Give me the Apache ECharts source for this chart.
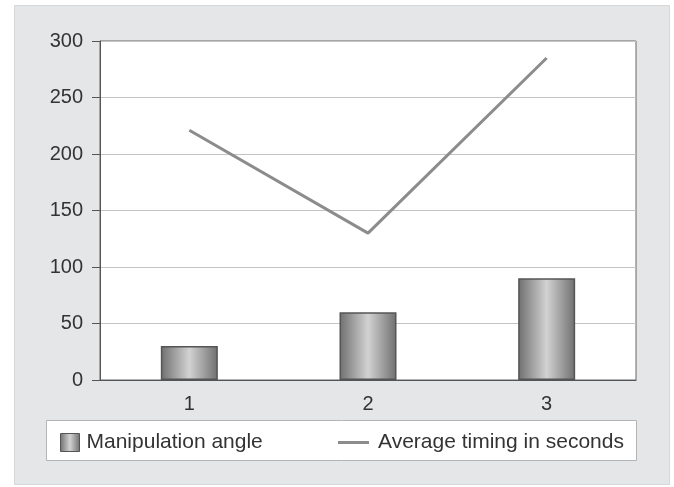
<!DOCTYPE html>
<html>
<head>
<meta charset="utf-8">
<script src="https://cdn.jsdelivr.net/npm/echarts@6/dist/echarts.min.js"></script>
<style>
html,body{margin:0;padding:0;background:#fff;}
#c{width:674px;height:487px;}
</style>
</head>
<body>
<div id="c"></div>
<script>
const categories = ['1', '2', '3'];
const manipulationAngle = [30, 60, 90];
const averageTiming = [221, 130, 285];
const yTicks = {min: 0, max: 300, interval: 50};

const FONT = '"Liberation Sans", Arial, sans-serif';
const chart = echarts.init(document.getElementById('c'), null, {renderer: 'canvas'});

const barGradient = new echarts.graphic.LinearGradient(0, 0, 1, 0, [
  {offset: 0, color: '#6f6f6f'},
  {offset: 0.5, color: '#d2d2d2'},
  {offset: 1, color: '#6f6f6f'}
]);

chart.setOption({
  backgroundColor: '#ffffff',
  animation: false,
  graphic: [
    {type: 'rect', z: -100, silent: true,
     shape: {x: 14.5, y: 5.5, width: 655, height: 479},
     style: {fill: '#e5e6e8', stroke: '#d6d7d9', lineWidth: 1}},
    {type: 'rect', z: 0, silent: true,
     shape: {x: 46.5, y: 420.5, width: 590, height: 40},
     style: {fill: '#ffffff', stroke: '#b4b4b4', lineWidth: 1}}
  ],
  grid: {
    left: 100, right: 38, top: 41, bottom: 107,
    show: true, backgroundColor: '#ffffff', borderColor: '#666666', borderWidth: 1
  },
  legend: [
    {
      data: [{name: 'Manipulation angle', icon: 'rect'}],
      left: 60, top: 432, padding: 0,
      itemWidth: 19, itemHeight: 18,
      textStyle: {fontFamily: FONT, fontSize: 21, color: '#333', padding: [0, 0, 0, 2]},
      itemStyle: {borderColor: '#555', borderWidth: 1}
    },
    {
      data: [{name: 'Average timing in seconds', icon: 'rect'}],
      left: 338, top: 432, padding: 0,
      itemWidth: 31, itemHeight: 3,
      textStyle: {fontFamily: FONT, fontSize: 21, color: '#333', padding: [0, 0, 0, 4]},
      itemStyle: {color: '#8c8c8c', borderWidth: 0}
    }
  ],
  xAxis: {
    type: 'category',
    data: categories,
    boundaryGap: true,
    axisLine: {lineStyle: {color: '#555', width: 1}},
    axisTick: {show: false},
    axisLabel: {fontFamily: FONT, fontSize: 20, color: '#333', margin: 14}
  },
  yAxis: {
    type: 'value',
    min: yTicks.min, max: yTicks.max, interval: yTicks.interval,
    axisLine: {show: true, lineStyle: {color: '#555', width: 1}},
    axisTick: {show: true, length: 8, lineStyle: {color: '#555'}},
    axisLabel: {fontFamily: FONT, fontSize: 20, color: '#333', margin: 17},
    splitLine: {lineStyle: {color: '#c4c4c4', width: 1}}
  },
  series: [
    {
      name: 'Manipulation angle',
      type: 'bar',
      data: manipulationAngle,
      barWidth: 57,
      itemStyle: {color: barGradient, borderColor: '#555', borderWidth: 1.5}
    },
    {
      name: 'Average timing in seconds',
      type: 'line',
      data: averageTiming,
      symbol: 'none',
      lineStyle: {color: '#8c8c8c', width: 3},
      itemStyle: {color: '#8c8c8c'}
    }
  ]
});
</script>
</body>
</html>
